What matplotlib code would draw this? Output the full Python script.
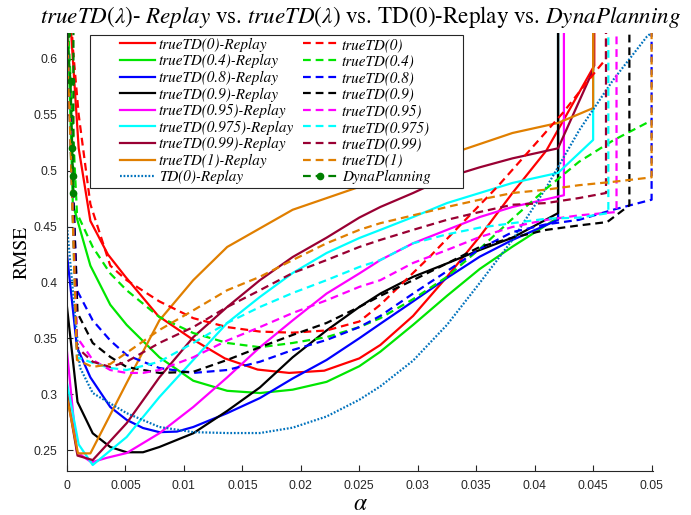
import numpy as np
import matplotlib
matplotlib.use("Agg")
import matplotlib.pyplot as plt
from matplotlib.patches import Rectangle
from matplotlib.ticker import FuncFormatter

plt.rcParams['mathtext.fontset'] = 'stix'

DIV = 1e3  # diverged run (RMSE blows up)

# ---------------- solid: trueTD(lambda)-Replay ----------------
a_r0 = [0, 0.001, 0.002, 0.0035, 0.005, 0.0078, 0.0106, 0.0135, 0.0163, 0.019, 0.022, 0.025, 0.0268, 0.0296, 0.0325, 0.0353, 0.0381, 0.041, 0.0451, 0.0456]
v_r0 = [0.68, 0.52, 0.455, 0.425, 0.405, 0.37, 0.35, 0.332, 0.322, 0.319, 0.321, 0.332, 0.344, 0.37, 0.405, 0.441, 0.48, 0.518, 0.594, DIV]
a_r4 = [0, 0.0005, 0.002, 0.0037, 0.0051, 0.0079, 0.0108, 0.0137, 0.0165, 0.0193, 0.0222, 0.025, 0.0268, 0.0296, 0.0325, 0.0353, 0.0381, 0.042, 0.0425]
v_r4 = [0.66, 0.47, 0.415, 0.38, 0.362, 0.333, 0.312, 0.303, 0.301, 0.304, 0.311, 0.325, 0.338, 0.362, 0.388, 0.412, 0.432, 0.458, DIV]
a_r8 = [0, 0.00085, 0.002, 0.0037, 0.0051, 0.0065, 0.0079, 0.0094, 0.0108, 0.0137, 0.0165, 0.0193, 0.0222, 0.025, 0.0268, 0.0296, 0.0325, 0.0353, 0.0381, 0.042, 0.0425]
v_r8 = [0.425, 0.342, 0.315, 0.2885, 0.277, 0.2697, 0.266, 0.2665, 0.2706, 0.283, 0.2965, 0.314, 0.3306, 0.35, 0.363, 0.383, 0.404, 0.423, 0.438, 0.456, DIV]
a_r9 = [0, 0.0009, 0.0022, 0.0037, 0.0051, 0.0065, 0.0079, 0.0108, 0.0137, 0.0165, 0.0193, 0.0222, 0.025, 0.0268, 0.0296, 0.0325, 0.0353, 0.0381, 0.042, 0.0425]
v_r9 = [0.378, 0.293, 0.265, 0.2527, 0.248, 0.248, 0.2527, 0.265, 0.285, 0.306, 0.333, 0.357, 0.378, 0.39, 0.405, 0.417, 0.429, 0.44, 0.462, DIV]
a_r95 = [0, 0.00085, 0.0021, 0.0034, 0.0051, 0.0079, 0.0108, 0.0137, 0.0165, 0.0193, 0.0222, 0.025, 0.0268, 0.0296, 0.0325, 0.0353, 0.0381, 0.0425, 0.043]
v_r95 = [0.338, 0.248, 0.239, 0.243, 0.2473, 0.265, 0.2885, 0.315, 0.342, 0.366, 0.39, 0.408, 0.42, 0.435, 0.447, 0.4585, 0.4675, 0.478, DIV]
a_r975 = [0, 0.001, 0.0022, 0.0051, 0.0079, 0.0108, 0.0137, 0.0165, 0.0193, 0.0222, 0.025, 0.0268, 0.0296, 0.0325, 0.0353, 0.0381, 0.042, 0.045, 0.0455]
v_r975 = [0.31, 0.255, 0.2366, 0.2616, 0.2974, 0.3306, 0.3637, 0.387, 0.4084, 0.4263, 0.4397, 0.447, 0.4585, 0.471, 0.48, 0.489, 0.498, 0.5275, DIV]
a_r99 = [0, 0.0009, 0.0022, 0.0051, 0.0079, 0.0108, 0.0137, 0.0165, 0.0193, 0.0222, 0.025, 0.0268, 0.0296, 0.0325, 0.0353, 0.0381, 0.042, 0.045, 0.0455]
v_r99 = [0.30, 0.245, 0.241, 0.274, 0.315, 0.351, 0.378, 0.402, 0.4227, 0.44, 0.458, 0.4675, 0.48, 0.494, 0.503, 0.511, 0.52, 0.59, DIV]
a_r1 = [0, 0.00094, 0.002, 0.0051, 0.0079, 0.0108, 0.0137, 0.0193, 0.025, 0.0338, 0.0381, 0.042, 0.045, 0.0455]
v_r1 = [0.297, 0.247, 0.247, 0.31, 0.366, 0.402, 0.4317, 0.465, 0.4855, 0.5185, 0.5337, 0.5427, 0.556, DIV]
# TD(0)-Replay (dotted)
a_td0 = [0, 0.0011, 0.0022, 0.0051, 0.0079, 0.0108, 0.0137, 0.0165, 0.0193, 0.0222, 0.025, 0.0268, 0.0296, 0.0325, 0.0353, 0.0381, 0.041, 0.0438, 0.0467, 0.0496, 0.0502]
v_td0 = [0.45, 0.324, 0.301, 0.283, 0.2706, 0.266, 0.2652, 0.2652, 0.27, 0.28, 0.295, 0.307, 0.33, 0.362, 0.3995, 0.438, 0.485, 0.536, 0.581, 0.62, 0.625]

# ---------------- dashed: trueTD(lambda) ----------------
a_t0 = [0, 0.0005, 0.001, 0.002, 0.0037, 0.0051, 0.0079, 0.0108, 0.0137, 0.0165, 0.0193, 0.0222, 0.025, 0.0268, 0.031, 0.0338, 0.0368, 0.0396, 0.0424, 0.0453, 0.0461, 0.0466]
v_t0 = [0.70, 0.61, 0.55, 0.47, 0.415, 0.402, 0.383, 0.368, 0.36, 0.356, 0.355, 0.357, 0.365, 0.38, 0.4227, 0.453, 0.4855, 0.5185, 0.5516, 0.59, 0.60, DIV]
a_t4 = [0, 0.00085, 0.0022, 0.0037, 0.0051, 0.0079, 0.0108, 0.0137, 0.0165, 0.0193, 0.0222, 0.025, 0.0268, 0.0296, 0.0325, 0.0353, 0.0381, 0.041, 0.0438, 0.0467, 0.05]
v_t4 = [0.65, 0.462, 0.4317, 0.408, 0.393, 0.369, 0.3547, 0.3458, 0.342, 0.3458, 0.351, 0.36, 0.368, 0.385, 0.405, 0.43, 0.457, 0.484, 0.508, 0.527, 0.545]
a_t8 = [0, 0.00085, 0.0022, 0.0037, 0.0051, 0.0065, 0.0079, 0.0108, 0.0137, 0.0165, 0.0193, 0.0222, 0.025, 0.0268, 0.0296, 0.0325, 0.0353, 0.0381, 0.041, 0.0438, 0.0467, 0.05, 0.0505]
v_t8 = [0.63, 0.393, 0.366, 0.348, 0.335, 0.329, 0.3234, 0.319, 0.3216, 0.329, 0.3395, 0.3485, 0.36, 0.37, 0.39, 0.41, 0.43, 0.445, 0.452, 0.456, 0.465, 0.474, DIV]
a_t9 = [0, 0.0009, 0.0022, 0.0037, 0.0051, 0.0079, 0.0108, 0.0137, 0.0165, 0.0193, 0.0222, 0.025, 0.0268, 0.0296, 0.0325, 0.0353, 0.0381, 0.041, 0.0438, 0.0462, 0.0481, 0.0486]
v_t9 = [0.63, 0.3726, 0.3458, 0.3333, 0.3243, 0.319, 0.32, 0.3306, 0.342, 0.353, 0.3637, 0.378, 0.388, 0.402, 0.417, 0.4317, 0.44, 0.447, 0.451, 0.454, 0.469, DIV]
a_t95 = [0, 0.00085, 0.0022, 0.0037, 0.0051, 0.0065, 0.0079, 0.0108, 0.0137, 0.0165, 0.0193, 0.0222, 0.025, 0.0268, 0.0296, 0.0325, 0.0353, 0.0381, 0.041, 0.0438, 0.047, 0.0475]
v_t95 = [0.63, 0.351, 0.3306, 0.3216, 0.319, 0.319, 0.3216, 0.333, 0.348, 0.36, 0.3726, 0.384, 0.396, 0.402, 0.4174, 0.429, 0.4406, 0.4496, 0.456, 0.46, 0.463, DIV]
a_t975 = [0, 0.00085, 0.0022, 0.0037, 0.0051, 0.0079, 0.0108, 0.0137, 0.0165, 0.0193, 0.0222, 0.025, 0.0268, 0.0296, 0.0325, 0.0353, 0.0381, 0.041, 0.0438, 0.0463, 0.0468]
v_t975 = [0.63, 0.333, 0.328, 0.3234, 0.3216, 0.329, 0.3458, 0.3637, 0.378, 0.3905, 0.402, 0.4138, 0.42, 0.435, 0.443, 0.449, 0.453, 0.457, 0.458, 0.462, DIV]
a_t99 = [0, 0.00085, 0.0022, 0.0037, 0.0051, 0.0079, 0.0108, 0.0137, 0.0165, 0.0193, 0.0222, 0.025, 0.0268, 0.0296, 0.0325, 0.0353, 0.0381, 0.041, 0.0438, 0.0461, 0.0466]
v_t99 = [0.63, 0.342, 0.329, 0.3243, 0.329, 0.3458, 0.36, 0.378, 0.393, 0.4084, 0.42, 0.4317, 0.438, 0.447, 0.456, 0.463, 0.4695, 0.471, 0.4755, 0.48, DIV]
a_t1 = [0, 0.00085, 0.0022, 0.0037, 0.0051, 0.0079, 0.0108, 0.0137, 0.0165, 0.0193, 0.0222, 0.025, 0.0268, 0.0296, 0.0325, 0.0353, 0.0381, 0.041, 0.0438, 0.0467, 0.05, 0.0505]
v_t1 = [0.63, 0.3306, 0.3243, 0.327, 0.337, 0.3574, 0.375, 0.393, 0.405, 0.42, 0.435, 0.447, 0.453, 0.46, 0.4675, 0.474, 0.48, 0.483, 0.487, 0.49, 0.494, DIV]
# DynaPlanning
a_dyna = [0, 0.0003, 0.00045, 0.0005, 0.00055, 0.0006]
v_dyna = [0.622, 0.58, 0.52, 0.495, 0.48, DIV]

labels_solid = ['trueTD(0)-Replay', 'trueTD(0.4)-Replay', 'trueTD(0.8)-Replay',
                'trueTD(0.9)-Replay', 'trueTD(0.95)-Replay', 'trueTD(0.975)-Replay',
                'trueTD(0.99)-Replay', 'trueTD(1)-Replay', 'TD(0)-Replay']
labels_dash = ['trueTD(0)', 'trueTD(0.4)', 'trueTD(0.8)', 'trueTD(0.9)', 'trueTD(0.95)',
               'trueTD(0.975)', 'trueTD(0.99)', 'trueTD(1)', 'DynaPlanning']
colors = ['#ff0000', '#00e600', '#0000ff', '#000000', '#ff00ff', '#00ffff', '#990033', '#e07f00']

solid_data = [(a_r0, v_r0), (a_r4, v_r4), (a_r8, v_r8), (a_r9, v_r9), (a_r95, v_r95),
              (a_r975, v_r975), (a_r99, v_r99), (a_r1, v_r1)]
dash_data = [(a_t0, v_t0), (a_t4, v_t4), (a_t8, v_t8), (a_t9, v_t9), (a_t95, v_t95),
             (a_t975, v_t975), (a_t99, v_t99), (a_t1, v_t1)]

fig = plt.figure(figsize=(6.91, 5.15), dpi=100)
ax = fig.add_axes([67/691, 1-470.7/515, 586/691, 437.5/515])

handles1, handles2 = [], []
for (a, v), c, lab in zip(solid_data, colors, labels_solid[:8]):
    h, = ax.plot(a, v, '-', color=c, lw=1.6, label=lab)
    handles1.append(h)
h, = ax.plot(a_td0, v_td0, color='#0072bd', lw=1.6, linestyle=(0, (0.8, 0.8)), label=labels_solid[8])
handles1.append(h)
for (a, v), c, lab in zip(dash_data, colors, labels_dash[:8]):
    h, = ax.plot(a, v, color=c, lw=1.6, linestyle=(0, (3.5, 2.2)), label=lab)
    handles2.append(h)
h, = ax.plot(a_dyna, v_dyna, color='#007f00', lw=1.6, linestyle=(0, (3.5, 2.2)), marker='o', ms=4.5,
             label=labels_dash[8])
handles2.append(h)

ax.set_xlim(0, 0.05012)
ax.set_ylim(0.2315, 0.623)
ax.set_xticks(np.arange(0, 0.0501, 0.005))
ax.set_yticks(np.arange(0.25, 0.601, 0.05))
fmt = FuncFormatter(lambda x, p: '%g' % round(x, 4))
ax.xaxis.set_major_formatter(fmt)
ax.yaxis.set_major_formatter(fmt)
for s in ['top', 'right']:
    ax.spines[s].set_visible(False)
for s in ['left', 'bottom']:
    ax.spines[s].set_color('#262626')
    ax.spines[s].set_linewidth(0.8)
ax.tick_params(direction='in', length=4, width=0.8, color='#262626', labelcolor='#262626',
               labelsize=8.7, pad=7)
for t in ax.get_xticklabels() + ax.get_yticklabels():
    t.set_fontfamily('Liberation Sans')

ax.text(0.5, -0.074, r'$\alpha$', transform=ax.transAxes, ha='center', va='center', fontsize=17)
ax.text(-0.077, 0.5, 'RMSE', transform=ax.transAxes, ha='center', va='center', rotation=90,
        fontsize=14, fontfamily='STIXGeneral')
ax.set_title(r'$trueTD(\lambda)$- $Replay$ vs. $trueTD(\lambda)$ vs. TD(0)-Replay vs. $DynaPlanning$',
             fontfamily='STIXGeneral', fontsize=16.6, pad=7)

box = Rectangle((0.0393, 0.646), 0.6357, 0.350, transform=ax.transAxes, facecolor='white',
                edgecolor='#262626', lw=0.8, zorder=4.9)
ax.add_patch(box)
leg = ax.legend(handles1 + handles2, labels_solid + labels_dash, ncol=2, loc='upper left',
                bbox_to_anchor=(0.0906, 0.99), frameon=False, borderpad=0,
                prop={'family': 'STIXGeneral', 'style': 'italic', 'size': 10.9},
                borderaxespad=0, handlelength=2.3, handletextpad=0.25, labelspacing=0.16,
                columnspacing=0.6)
leg.set_zorder(5)

fig.savefig('out.png', dpi=100)
